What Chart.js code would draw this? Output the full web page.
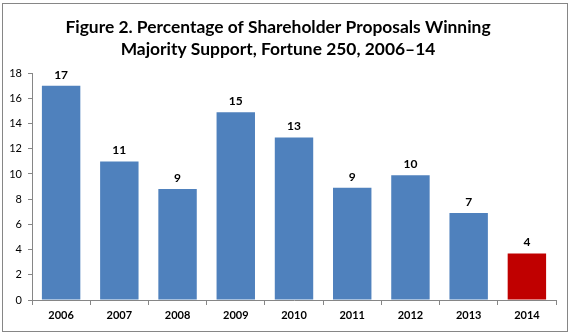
<!DOCTYPE html>
<html>
<head>
<meta charset="utf-8">
<script src="https://cdn.jsdelivr.net/npm/chart.js@4/dist/chart.umd.min.js"></script>
<style>
  html, body { margin: 0; padding: 0; background: #fff; }
  #wrap { width: 573px; height: 336px; position: relative; }
</style>
</head>
<body>
<div id="wrap"><canvas id="myChart" width="573" height="336"></canvas></div>
<script>
var years = ['2006', '2007', '2008', '2009', '2010', '2011', '2012', '2013', '2014'];
var percentWinning = [17.0, 11.0, 8.8, 14.9, 12.9, 8.9, 9.9, 6.9, 3.7];
var barColors = ['#4F81BD', '#4F81BD', '#4F81BD', '#4F81BD', '#4F81BD', '#4F81BD', '#4F81BD', '#4F81BD', '#C00000'];
var titleLines = ['Figure 2. Percentage of Shareholder Proposals Winning', 'Majority Support, Fortune 250, 2006\u201314'];

var axisGray = '#868686';

// outer frame around the whole figure
var framePlugin = {
  id: 'frame',
  beforeDraw: function (chart) {
    var ctx = chart.ctx;
    ctx.save();
    ctx.fillStyle = '#ffffff';
    ctx.fillRect(0, 0, chart.width, chart.height);
    ctx.strokeStyle = axisGray;
    ctx.lineWidth = 1;
    ctx.strokeRect(2.5, 3.5, 565, 328);
    ctx.restore();
  }
};

// rounded value above each bar
var valueLabels = {
  id: 'valueLabels',
  afterDatasetsDraw: function (chart) {
    var ctx = chart.ctx;
    var meta = chart.getDatasetMeta(0);
    ctx.save();
    ctx.font = 'bold 12px Lato';
    ctx.fillStyle = '#000000';
    ctx.textAlign = 'center';
    ctx.textBaseline = 'bottom';
    meta.data.forEach(function (bar, i) {
      ctx.fillText(Math.round(percentWinning[i]), bar.x, bar.y - 5);
    });
    ctx.restore();
  }
};

var ctx = document.getElementById('myChart').getContext('2d');
var myChart = new Chart(ctx, {
  type: 'bar',
  data: {
    labels: years,
    datasets: [{
      data: percentWinning,
      backgroundColor: barColors,
      borderWidth: 0,
      barPercentage: 0.66,
      categoryPercentage: 1.0
    }]
  },
  options: {
    responsive: false,
    animation: false,
    layout: {
      padding: { left: 0, right: 17, top: 0, bottom: 0 }
    },
    plugins: {
      legend: { display: false },
      tooltip: { enabled: false },
      title: {
        display: true,
        text: titleLines,
        color: '#000000',
        font: { family: 'Lato', size: 17.4, weight: 'bold', lineHeight: 1.27 },
        padding: { top: 16, bottom: 13 }
      }
    },
    scales: {
      x: {
        grid: {
          drawOnChartArea: false,
          drawTicks: true,
          tickLength: 5,
          color: axisGray
        },
        border: { color: axisGray },
        ticks: {
          color: '#000000',
          font: { family: 'Lato', size: 11, weight: 'bold' },
          padding: 4,
          maxRotation: 0
        },
        afterFit: function (scale) { scale.height = 36; }
      },
      y: {
        min: 0,
        max: 18,
        grid: {
          drawOnChartArea: false,
          drawTicks: true,
          tickLength: 4,
          color: axisGray
        },
        border: { color: axisGray },
        ticks: {
          stepSize: 2,
          color: '#000000',
          font: { family: 'Lato', size: 11 },
          padding: 6
        },
        afterFit: function (scale) { scale.width = 32; }
      }
    }
  },
  plugins: [framePlugin, valueLabels]
});
</script>
</body>
</html>
